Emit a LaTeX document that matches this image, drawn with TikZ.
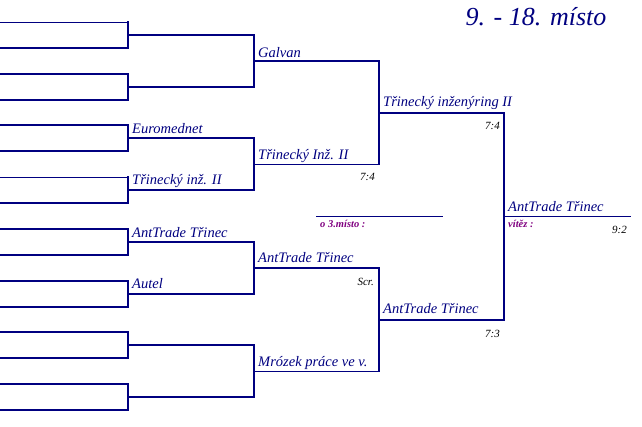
\documentclass[tikz,border=0pt]{standalone}
\usepackage{fontspec}
\setmainfont{Liberation Serif}
\definecolor{navy}{RGB}{0,0,128}
\definecolor{purp}{RGB}{128,0,128}
\begin{document}
\begin{tikzpicture}[x=1pt,y=-1pt,
  thk/.style={draw=navy,line width=2pt,line cap=rect},
  thn/.style={draw=navy,line width=1pt,line cap=rect},
  team/.style={inner sep=0pt,anchor=base west,text=navy,font=\fontsize{14.5}{14.5}\selectfont\itshape},
  score/.style={inner sep=0pt,anchor=base east,text=black,font=\fontsize{11}{11}\selectfont\itshape},
  tag/.style={inner sep=0pt,anchor=base west,text=purp,font=\fontsize{10.5}{11}\selectfont\bfseries\itshape}]
\useasboundingbox (0,0) rectangle (642,426);
% leaves
\foreach \k in {0,...,15}{
  \pgfmathsetmacro\yy{22+25.867*\k}
  \coordinate (l\k) at (0,\yy);
  \coordinate (c\k) at (128,\yy);
}
\foreach \p in {0,...,7}{
  \pgfmathsetmacro\yy{34.93+51.733*\p}
  \coordinate (p\p) at (128,\yy);
  \coordinate (q\p) at (254,\yy);
}
\foreach \p in {0,...,3}{
  \pgfmathsetmacro\yy{60.8+103.467*\p}
  \coordinate (r\p) at (254,\yy);
  \coordinate (s\p) at (379,\yy);
}
\coordinate (t0) at (379,112.6);
\coordinate (u0) at (504,112.6);
\coordinate (t1) at (379,319.5);
\coordinate (u1) at (504,319.5);
\coordinate (v) at (504,216);
\coordinate (w) at (630,216);
\coordinate (e1) at (316,216);
\coordinate (e2) at (442,216);
% round 1
\foreach \k in {1,...,5,7,8,9,10,11,12,13,14,15}{\draw[thk] (l\k) -- (c\k);}
\draw[thn] (l0) -- (c0);
\draw[thn] (l6) -- (c6);
\foreach \p in {0,...,7}{
  \pgfmathtruncatemacro\a{2*\p}
  \pgfmathtruncatemacro\b{2*\p+1}
  \draw[thk] (c\a) -- (c\b);
  \draw[thk] (p\p) -- (q\p);
}
\foreach \p in {0,...,3}{
  \pgfmathtruncatemacro\a{2*\p}
  \pgfmathtruncatemacro\b{2*\p+1}
  \draw[thk] (q\a) -- (q\b);
}
\draw[thk] (r0) -- (s0);
\draw[thn] (r1) -- (s1);
\draw[thk] (r2) -- (s2);
\draw[thn] (r3) -- (s3);
\draw[thk] (s0) -- (s1);
\draw[thk] (s2) -- (s3);
\draw[thk] (t0) -- (u0);
\draw[thk] (t1) -- (u1);
\draw[thk] (u0) -- (u1);
\draw[thn] (v) -- (w);
\draw[thn] (e1) -- (e2);
% title
\node[inner sep=0pt,anchor=base,text=navy,font=\fontsize{26}{26}\selectfont\itshape] (title) at (536,25) {9. - 18. místo};
% team labels
\node[team] (n1) at (258,57) {Galvan};
\node[team] (n2) at (132,133) {Euromednet};
\node[team] (n3) at (132,184) {Třinecký inž. II};
\node[team] (n4) at (258,159) {Třinecký Inž. II};
\node[team] (n5) at (383,106) {Třinecký inženýring II};
\node[team] (n6) at (132,237) {AntTrade Třinec};
\node[team] (n7) at (132,288) {Autel};
\node[team] (n8) at (258,262) {AntTrade Třinec};
\node[team] (n9) at (258,366) {Mrózek práce ve v.};
\node[team] (n10) at (383,313) {AntTrade Třinec};
\node[team] (n11) at (508,211) {AntTrade Třinec};
% scores
\node[score] (s74a) at (375,180) {7:4};
\node[score] (s74b) at (500,129) {7:4};
\node[score] (scr) at (374,285) {Scr.};
\node[score] (s73) at (500,337) {7:3};
\node[score] (s92) at (627,233) {9:2};
% tags
\node[tag] (vit) at (508,227) {vítěz :};
\node[tag] (tri) at (320,227) {o 3.místo :};
\end{tikzpicture}
\end{document}
